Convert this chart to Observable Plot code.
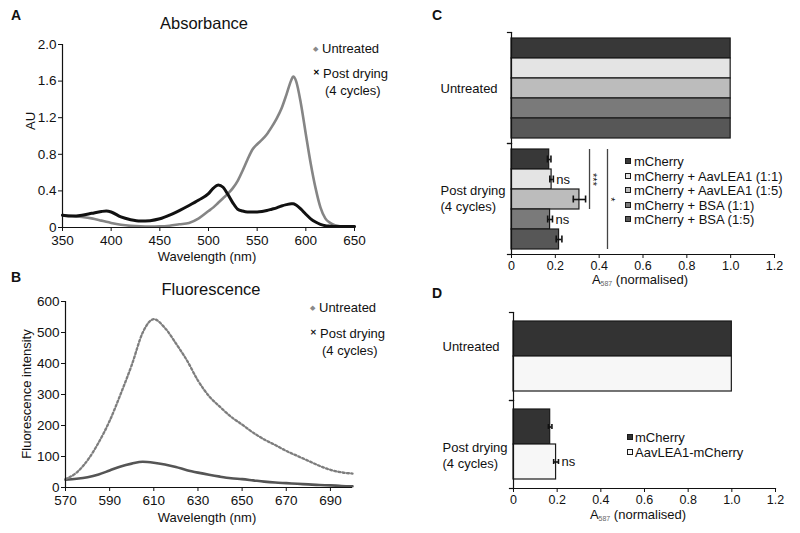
<!DOCTYPE html>
<html><head><meta charset="utf-8">
<script src="https://cdn.jsdelivr.net/npm/d3@7"></script>
<script src="https://cdn.jsdelivr.net/npm/@observablehq/plot@0.6"></script>
<style>
body{margin:0;background:#fff;}
#fig{position:relative;width:800px;height:533px;overflow:hidden;font-family:"Liberation Sans",Arial,Helvetica,sans-serif;color:#111;background:#fff;}
.abs{position:absolute;white-space:nowrap;line-height:1;}
.panel{position:absolute;}
.sw{position:absolute;width:4px;height:4px;border:1px solid #1a1a1a;}
sub{font-size:7px;color:#666;vertical-align:-2px;}
</style></head><body><div id="fig"></div>
<script>
// ---------- Panel A: Absorbance ----------
const absWavelength = [350,360,370,380,390,395,400,410,420,430,440,450,460,470,480,490,500,505,510,515,520,525,530,535,540,545,550,555,560,565,570,575,580,585,587,590,595,600,605,610,615,620,625,630,640,650];
const absUntreated  = [0.135,0.125,0.115,0.10,0.075,0.062,0.05,0.03,0.018,0.012,0.01,0.012,0.02,0.035,0.05,0.10,0.18,0.22,0.27,0.32,0.37,0.43,0.51,0.62,0.74,0.85,0.91,0.96,1.02,1.10,1.19,1.30,1.45,1.61,1.65,1.60,1.35,1.02,0.70,0.43,0.22,0.10,0.05,0.025,0.01,0.01];
const absPostDrying = [0.135,0.125,0.135,0.155,0.175,0.18,0.17,0.115,0.085,0.07,0.075,0.095,0.135,0.185,0.24,0.30,0.37,0.43,0.465,0.44,0.36,0.27,0.20,0.18,0.17,0.17,0.17,0.175,0.185,0.20,0.215,0.235,0.25,0.26,0.26,0.245,0.20,0.145,0.095,0.06,0.035,0.02,0.015,0.01,0.01,0.01];
const absXTicks = [350,400,450,500,550,600,650];
const absYTicks = [0,0.4,0.8,1.2,1.6,2.0];

// ---------- Panel B: Fluorescence ----------
const fluWavelength = [570,575,580,585,590,595,600,605,610,615,620,625,630,635,640,645,650,655,660,665,670,675,680,685,690,695,700];
const fluUntreated  = [27,48,88,145,215,302,395,500,543,515,465,410,345,295,260,228,203,177,155,137,118,102,86,70,57,49,45];
const fluPostDrying = [25,28,33,42,55,68,77,83,80,74,66,56,48,41,35,30,27,23,19,16,14,12,10,8,7,5,4];
const fluXTicks = [570,590,610,630,650,670,690];
const fluYTicks = [0,100,200,300,400,500,600];

// ---------- Panel C: A587 normalised ----------
const cGroups = ["Untreated","Post drying"];
const cGroupLabels = ["Untreated","Post drying\n(4 cycles)"];
const cSeries = ["mCherry","mCherry + AavLEA1 (1:1)","mCherry + AavLEA1 (1:5)","mCherry + BSA (1:1)","mCherry + BSA (1:5)"];
const cUntreated = [1,1,1,1,1];
const cPostDrying = [0.172,0.183,0.31,0.176,0.217];
const cPostDryingErr = [0.008,0.008,0.028,0.011,0.013];
const cSignif = ["","ns","","ns",""];
const cBrackets = [
  {group:"Post drying", x:0.356, from:"mCherry", to:"mCherry + AavLEA1 (1:5)", at:"mCherry + AavLEA1 (1:1)", label:"***"},
  {group:"Post drying", x:0.438, from:"mCherry", to:"mCherry + BSA (1:5)", at:"mCherry + AavLEA1 (1:5)", label:"*"}
];
const barXTicks = [0,0.2,0.4,0.6,0.8,1.0,1.2];

// ---------- Panel D ----------
const dGroups = ["Untreated","Post drying"];
const dGroupLabels = ["Untreated","Post drying\n(4 cycles)"];
const dSeries = ["mCherry","AavLEA1-mCherry"];
const dUntreated = [1,1];
const dPostDrying = [0.168,0.195];
const dPostDryingErr = [0.008,0.011];
const dSignif = ["","ns"];

// ---------- styles ----------
const cColors = ["#383838","#e4e4e4","#bcbcbc","#7a7a7a","#575757"];
const dColors = ["#333333","#f7f7f7"];
const font = '"Liberation Sans", Arial, Helvetica, sans-serif';
const fig = document.getElementById("fig");

function label(html, x, y, o = {}) {
  const d = document.createElement("div");
  d.className = "abs";
  d.innerHTML = html;
  d.style.left = x + "px"; d.style.top = y + "px";
  d.style.fontSize = (o.size || 13) + "px";
  if (o.weight) d.style.fontWeight = o.weight;
  if (o.color) d.style.color = o.color;
  const tx = o.anchor === "start" ? "0" : o.anchor === "end" ? "-100%" : "-50%";
  d.style.transform = `translate(${tx},-50%)` + (o.rotate ? ` rotate(${o.rotate}deg)` : "");
  fig.appendChild(d);
  return d;
}
function mount(svg, left, top) {
  const w = document.createElement("div");
  w.className = "panel"; w.style.left = left + "px"; w.style.top = top + "px";
  w.appendChild(svg); fig.appendChild(w);
}
const dec1 = d => d === 0 ? "0" : d.toFixed(1);

// ---------- A ----------
const absRows = absWavelength.map((nm, i) => ({nm, u: absUntreated[i], p: absPostDrying[i]}));
mount(Plot.plot({
  width: 400, height: 270, marginLeft: 62, marginRight: 46, marginTop: 44, marginBottom: 43,
  style: {fontFamily: font, fontSize: "13.5px", color: "#111", background: "transparent", overflow: "visible"},
  x: {domain: [350, 650]}, y: {domain: [0, 2]},
  marks: [
    Plot.line(absRows, {x: "nm", y: "u", stroke: "#858585", strokeWidth: 2.6, curve: "monotone-x"}),
    Plot.line(absRows, {x: "nm", y: "p", stroke: "#111", strokeWidth: 3, curve: "monotone-x"}),
    Plot.ruleX([350], {stroke: "#111", strokeWidth: 1.2}),
    Plot.ruleY([0], {stroke: "#111", strokeWidth: 1.2}),
    Plot.axisX({ticks: absXTicks, tickSize: 4, tickPadding: 4, tickFormat: d => String(d), label: null}),
    Plot.axisY({ticks: absYTicks, tickSize: 4, tickPadding: 2, tickFormat: dec1, label: null})
  ]
}), 0, 0);
label("A", 11, 14.5, {size: 14, weight: "bold", anchor: "start"});
label("Absorbance", 204, 23, {size: 16.5});
label("AU", 30, 121, {rotate: -90});
label("Wavelength (nm)", 207, 256);
label("◆", 315, 48, {size: 7, color: "#8a8a8a"});
label("Untreated", 322, 48, {anchor: "start"});
label("✕", 316, 73, {size: 8, weight: "bold", color: "#000"});
label("Post drying", 323, 73, {anchor: "start"});
label("(4 cycles)", 325, 90, {anchor: "start"});

// ---------- B ----------
const fluRows = fluWavelength.map((nm, i) => ({nm, u: fluUntreated[i], p: fluPostDrying[i]}));
mount(Plot.plot({
  width: 400, height: 263, marginLeft: 65, marginRight: 48, marginTop: 31, marginBottom: 46,
  style: {fontFamily: font, fontSize: "13.5px", color: "#111", background: "transparent", overflow: "visible"},
  x: {domain: [570, 700]}, y: {domain: [0, 600]},
  marks: [
    Plot.line(fluRows, {x: "nm", y: "p", stroke: "#555", strokeWidth: 2.6, curve: "monotone-x"}),
    Plot.line(fluRows, {x: "nm", y: "u", stroke: "#7e7e7e", strokeWidth: 2.3, strokeDasharray: "2,2.3", curve: "monotone-x"}),
    Plot.ruleX([570], {stroke: "#111", strokeWidth: 1.2}),
    Plot.ruleY([0], {stroke: "#111", strokeWidth: 1.2}),
    Plot.axisX({ticks: fluXTicks, tickSize: 4, tickPadding: 4, tickFormat: d => String(d), label: null}),
    Plot.axisY({ticks: fluYTicks, tickSize: 4, tickPadding: 2, tickFormat: d => String(d), label: null})
  ]
}), 0, 270);
label("B", 11, 277, {size: 14, weight: "bold", anchor: "start"});
label("Fluorescence", 211, 289, {size: 16.5});
label("Fluorescence intensity", 26, 394, {rotate: -90});
label("Wavelength (nm)", 207, 517);
label("◆", 312, 307, {size: 7, color: "#8a8a8a"});
label("Untreated", 319, 307, {anchor: "start"});
label("✕", 313, 333, {size: 8, weight: "bold", color: "#222"});
label("Post drying", 320, 333, {anchor: "start"});
label("(4 cycles)", 322, 350, {anchor: "start"});

// ---------- bar chart builder ----------
function barPanel({groups, groupLabels, series, untreated, post, err, signif, colors, brackets = [],
                   width, height, mL, mR, mT, mB, padOuter, capInset, labelDy}) {
  const rows = [];
  series.forEach((s, i) => rows.push({group: groups[0], series: s, value: untreated[i]}));
  const errRows = series.map((s, i) => ({group: groups[1], series: s, value: post[i], err: err[i], sig: signif[i]}));
  errRows.forEach(r => rows.push({group: r.group, series: r.series, value: r.value}));
  const frameW = width - mL - mR;
  const lbl = g => groupLabels[groups.indexOf(g)];
  return Plot.plot({
    width, height, marginLeft: mL, marginRight: mR, marginTop: mT, marginBottom: mB,
    style: {fontFamily: font, fontSize: "12.5px", color: "#111", background: "transparent", overflow: "visible"},
    x: {domain: [0, 1.2]},
    y: {domain: series, paddingInner: 0, paddingOuter: padOuter, axis: null},
    fy: {domain: groups, padding: 0, label: null},
    color: {domain: series, range: colors},
    marks: [
      Plot.barX(rows, {x: "value", y: "series", fy: "group", fill: "series", stroke: "#1a1a1a", strokeWidth: 1.2}),
      Plot.ruleY(errRows, {y: "series", fy: "group", x1: d => d.value - d.err, x2: d => d.value + d.err, stroke: "#111", strokeWidth: 1.6}),
      Plot.tickX(errRows, {x: d => d.value - d.err, y: "series", fy: "group", insetTop: capInset, insetBottom: capInset, stroke: "#111", strokeWidth: 1.6}),
      Plot.tickX(errRows, {x: d => d.value + d.err, y: "series", fy: "group", insetTop: capInset, insetBottom: capInset, stroke: "#111", strokeWidth: 1.6}),
      Plot.text(errRows.filter(d => d.sig), {x: d => d.value + d.err, y: "series", fy: "group", text: "sig", dx: 3, textAnchor: "start", fontSize: 13}),
      Plot.ruleX(brackets, {x: "x", y1: "from", y2: "to", fy: "group", stroke: "#444", strokeWidth: 1.3}),
      Plot.text(brackets, {x: "x", y: "at", fy: "group", text: "label", rotate: 90, dx: 3, fontSize: 11}),
      Plot.ruleX([0], {stroke: "#111", strokeWidth: 1.2}),
      Plot.frame({anchor: "top", insetLeft: -4, insetRight: frameW, stroke: "#111", strokeWidth: 1.2}),
      Plot.frame({anchor: "bottom", insetLeft: -4, insetRight: frameW, stroke: "#111", strokeWidth: 1.2}),
      Plot.frame({anchor: "bottom", facet: "super", stroke: "#111", strokeWidth: 1.2}),
      Plot.axisX({ticks: barXTicks, tickSize: 4, tickPadding: 3, tickFormat: dec1, label: null}),
      Plot.axisFy({ticks: [groups[0]], anchor: "left", tickSize: 0, tickPadding: 71, textAnchor: "start", lineHeight: 1.25, fontSize: 13, label: null, tickFormat: lbl, dy: labelDy[0]}),
      Plot.axisFy({ticks: [groups[1]], anchor: "left", tickSize: 0, tickPadding: 71, textAnchor: "start", lineHeight: 1.25, fontSize: 13, label: null, tickFormat: lbl, dy: labelDy[1]})
    ]
  });
}

// ---------- C ----------
mount(barPanel({groups: cGroups, groupLabels: cGroupLabels, series: cSeries, untreated: cUntreated, post: cPostDrying,
  err: cPostDryingErr, signif: cSignif, colors: cColors, brackets: cBrackets,
  width: 400, height: 300, mL: 111, mR: 26, mT: 32, mB: 46, padOuter: 0.275, capInset: 6.5, labelDy: [0, -1]}), 400, 0);
label("C", 432, 15, {size: 14, weight: "bold", anchor: "start"});
label("A<sub>587</sub> (normalised)", 640, 280);
cSeries.forEach((s, i) => {
  const y = 161 + i * 14.5;
  const sw = document.createElement("div"); sw.className = "sw";
  sw.style.left = "625px"; sw.style.top = (y - 3) + "px"; sw.style.background = cColors[i];
  fig.appendChild(sw);
  label(s, 634, y, {anchor: "start"});
});

// ---------- D ----------
mount(barPanel({groups: dGroups, groupLabels: dGroupLabels, series: dSeries, untreated: dUntreated, post: dPostDrying,
  err: dPostDryingErr, signif: dSignif, colors: dColors,
  width: 400, height: 243, mL: 113, mR: 25, mT: 21, mB: 45, padOuter: 0.23, capInset: 15, labelDy: [-11, 10]}), 400, 290);
label("D", 432, 293, {size: 14, weight: "bold", anchor: "start"});
label("A<sub>587</sub> (normalised)", 638, 515);
dSeries.forEach((s, i) => {
  const y = 437 + i * 15;
  const sw = document.createElement("div"); sw.className = "sw";
  sw.style.left = "627px"; sw.style.top = (y - 3) + "px"; sw.style.background = dColors[i];
  fig.appendChild(sw);
  label(s, 635, y, {anchor: "start"});
});
</script>
</body></html>
